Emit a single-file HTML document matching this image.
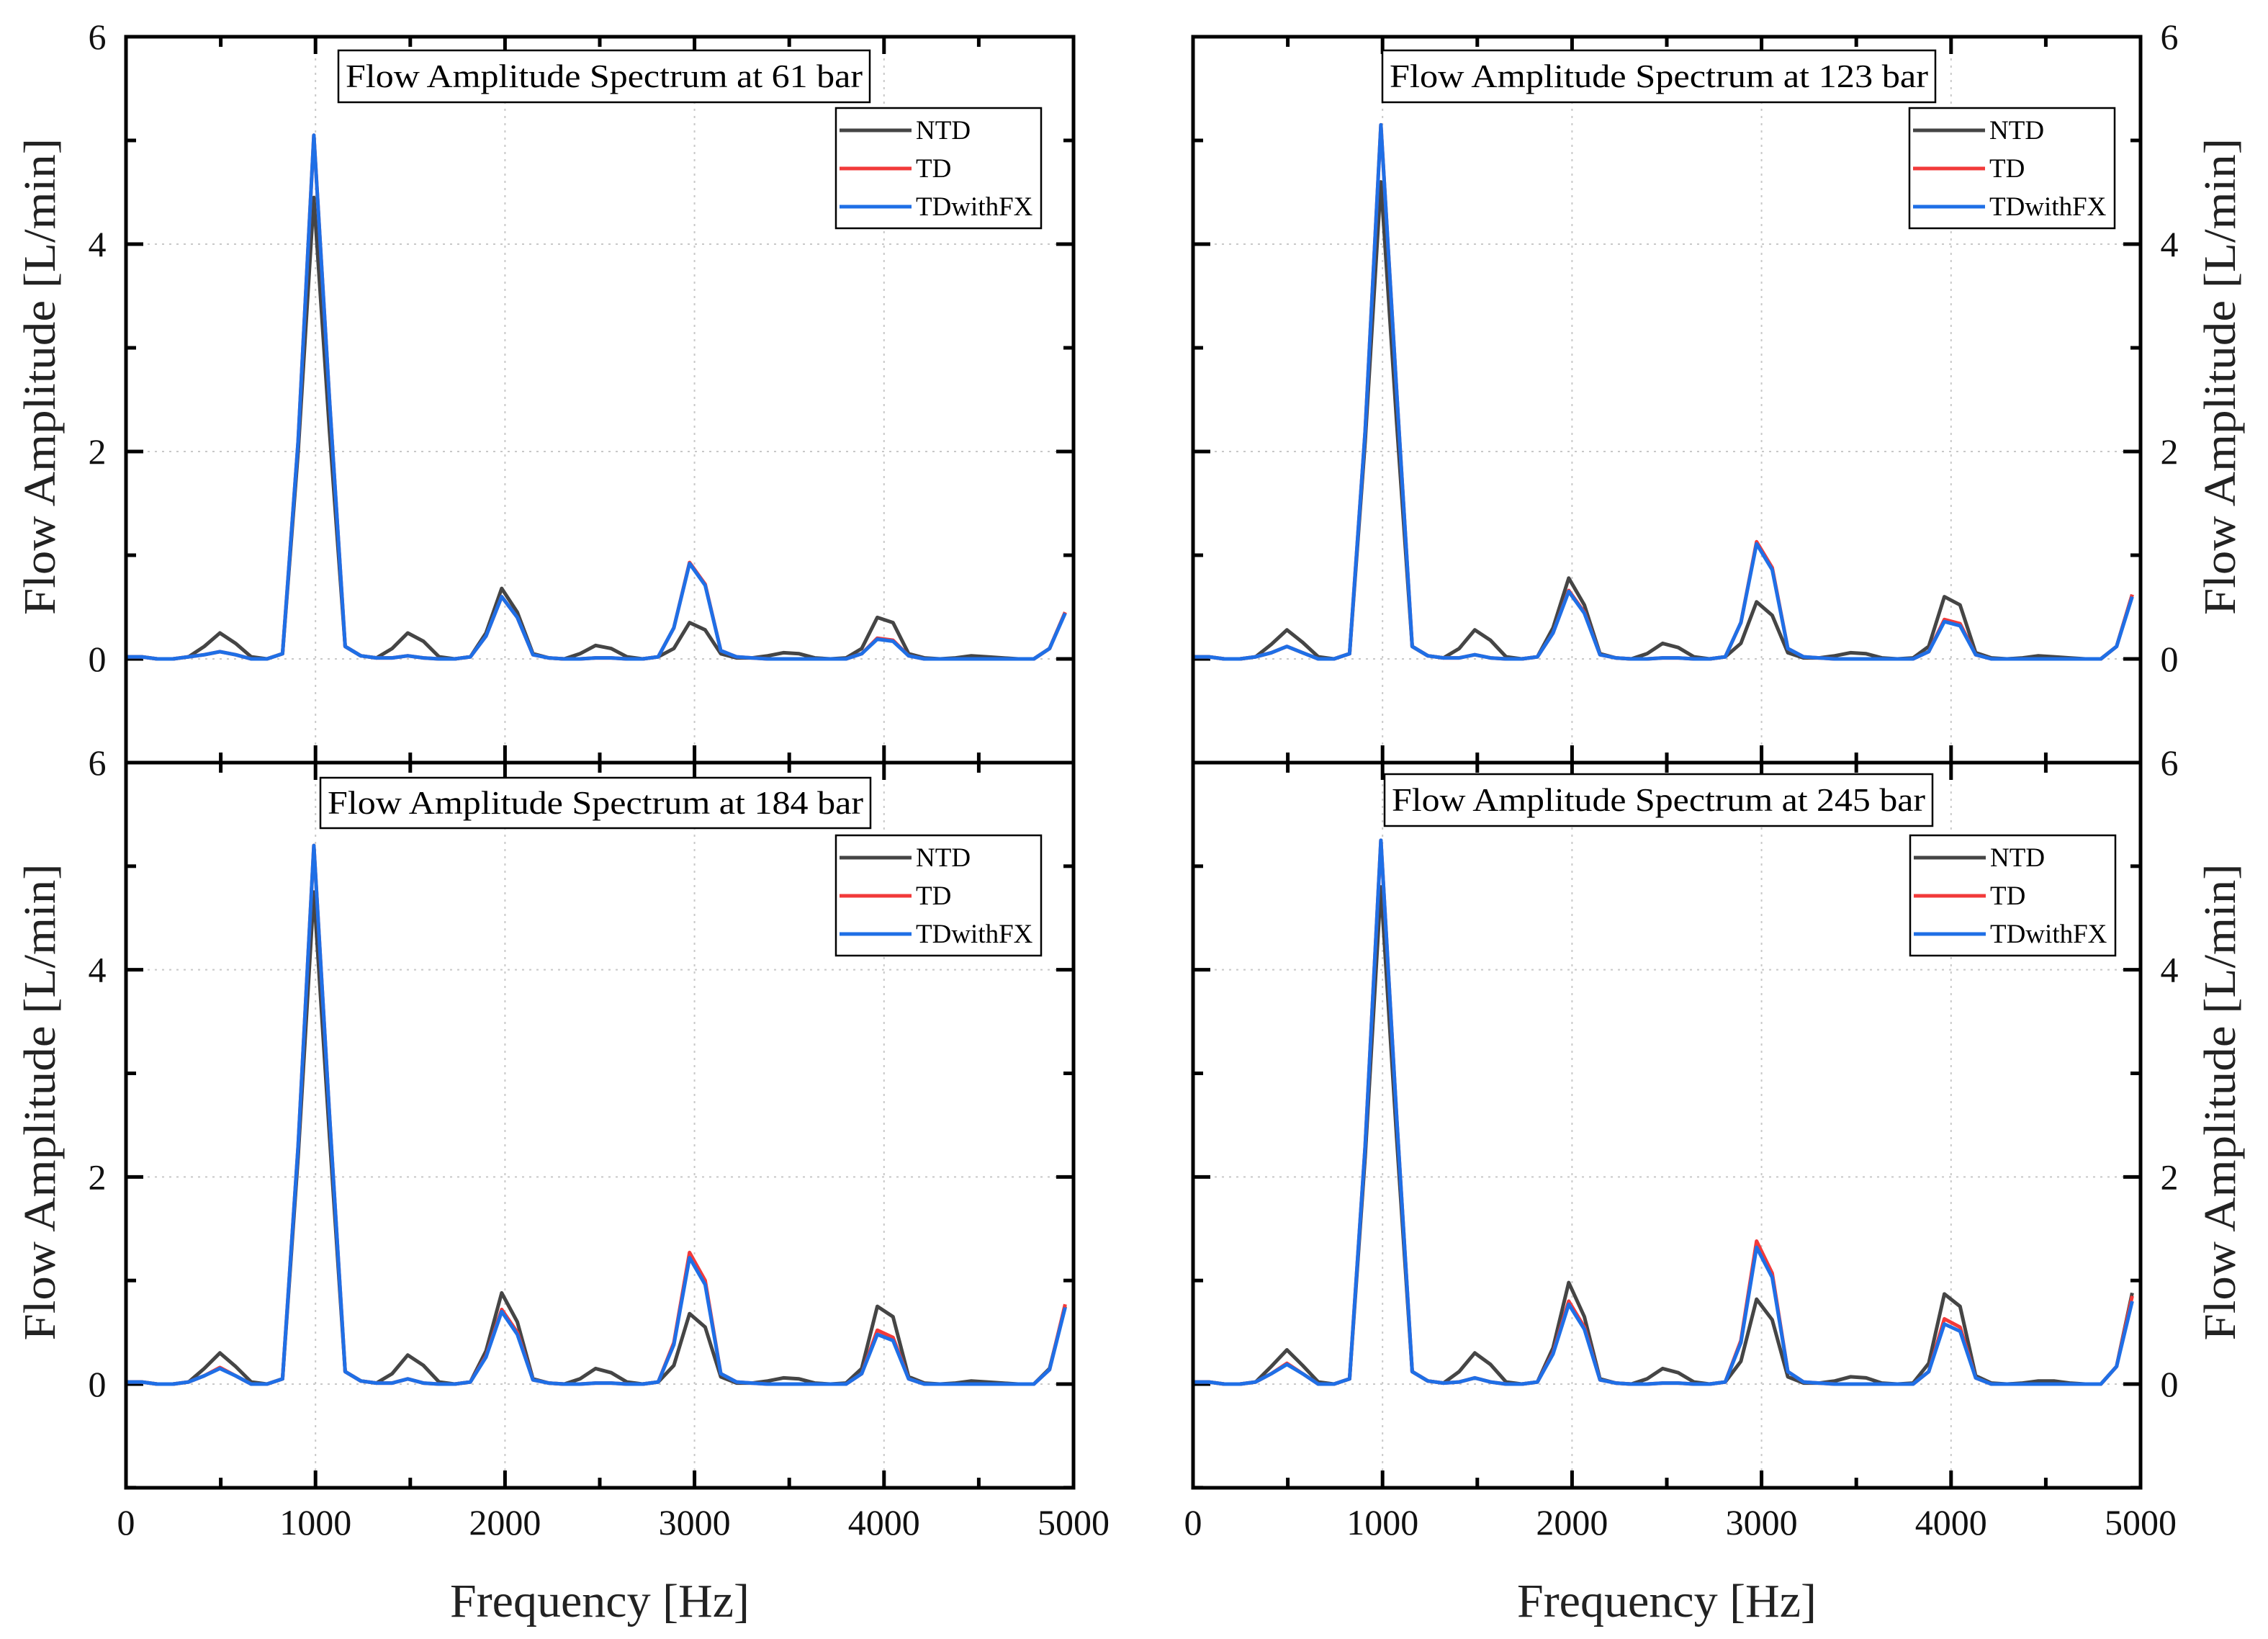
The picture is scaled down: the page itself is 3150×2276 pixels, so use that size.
<!DOCTYPE html>
<html><head><meta charset="utf-8"><style>
html,body{margin:0;padding:0;background:#fff;}
svg{display:block;font-family:"Liberation Serif",serif;}
</style></head><body>
<svg id="chart" width="3150" height="2276" viewBox="0 0 3150 2276" xmlns="http://www.w3.org/2000/svg"></svg>
<script>
const freqStep = 82.6;
const xTicks = [0,1000,2000,3000,4000,5000];
const yTicks = [0,2,4,6];
const seriesNames = ["NTD","TD","TDwithFX"];
const panelTitles = ["Flow Amplitude Spectrum at 61 bar","Flow Amplitude Spectrum at 123 bar","Flow Amplitude Spectrum at 184 bar","Flow Amplitude Spectrum at 245 bar"];

const ntd61 = [0.02,0.02,0,0,0.02,0.12,0.25,0.15,0.02,0, 0.05,2.0,4.45,2.2,0.12,0.03,0.01,0.1,0.25,0.17, 0.02,0,0.02,0.25,0.68,0.45,0.05,0.01,0,0.05, 0.13,0.1,0.02,0,0.02,0.1,0.35,0.28,0.05,0.01, 0.01,0.03,0.06,0.05,0.01,0,0.01,0.1,0.4,0.35, 0.05,0.01,0,0.01,0.03,0.02,0.01,0,0,0.1,0.45];
const td61  = [0.02,0.02,0,0,0.02,0.04,0.07,0.04,0,0, 0.05,2.1,5.05,2.5,0.12,0.03,0.01,0.01,0.03,0.01, 0,0,0.02,0.22,0.6,0.4,0.04,0.01,0,0, 0.01,0.01,0,0,0.02,0.3,0.93,0.72,0.08,0.02, 0.01,0,0,0,0,0,0,0.05,0.2,0.18, 0.03,0,0,0,0,0,0,0,0,0.1,0.45];
const fx61  = [0.02,0.02,0,0,0.02,0.04,0.07,0.04,0,0, 0.05,2.1,5.05,2.5,0.12,0.03,0.01,0.01,0.03,0.01, 0,0,0.02,0.22,0.6,0.4,0.04,0.01,0,0, 0.01,0.01,0,0,0.02,0.3,0.92,0.71,0.08,0.02, 0.01,0,0,0,0,0,0,0.05,0.19,0.17, 0.03,0,0,0,0,0,0,0,0,0.1,0.44];

const ntd123 = [0.02,0.02,0,0,0.02,0.14,0.28,0.16,0.02,0, 0.05,2.1,4.6,2.3,0.12,0.03,0.01,0.1,0.28,0.18, 0.02,0,0.02,0.3,0.78,0.52,0.05,0.01,0,0.05, 0.15,0.11,0.02,0,0.02,0.15,0.55,0.42,0.06,0.01, 0.01,0.03,0.06,0.05,0.01,0,0.01,0.12,0.6,0.52, 0.06,0.01,0,0.01,0.03,0.02,0.01,0,0,0.12,0.62];
const td123  = [0.02,0.02,0,0,0.02,0.06,0.12,0.06,0,0, 0.05,2.2,5.15,2.6,0.12,0.03,0.01,0.01,0.04,0.01, 0,0,0.02,0.25,0.66,0.45,0.04,0.01,0,0, 0.01,0.01,0,0,0.02,0.35,1.13,0.88,0.1,0.02, 0.01,0,0,0,0,0,0,0.07,0.38,0.34, 0.04,0,0,0,0,0,0,0,0,0.12,0.62];
const fx123  = [0.02,0.02,0,0,0.02,0.06,0.12,0.06,0,0, 0.05,2.2,5.15,2.6,0.12,0.03,0.01,0.01,0.04,0.01, 0,0,0.02,0.25,0.65,0.44,0.04,0.01,0,0, 0.01,0.01,0,0,0.02,0.35,1.11,0.86,0.1,0.02, 0.01,0,0,0,0,0,0,0.07,0.36,0.32, 0.04,0,0,0,0,0,0,0,0,0.12,0.6];

const ntd184 = [0.02,0.02,0,0,0.02,0.15,0.3,0.17,0.02,0, 0.05,2.2,4.75,2.4,0.12,0.03,0.01,0.1,0.28,0.18, 0.02,0,0.02,0.32,0.88,0.6,0.05,0.01,0,0.05, 0.15,0.11,0.02,0,0.02,0.18,0.68,0.55,0.07,0.01, 0.01,0.03,0.06,0.05,0.01,0,0.01,0.15,0.75,0.65, 0.07,0.01,0,0.01,0.03,0.02,0.01,0,0,0.15,0.75];
const td184  = [0.02,0.02,0,0,0.02,0.08,0.16,0.08,0,0, 0.05,2.3,5.2,2.6,0.12,0.03,0.01,0.01,0.05,0.01, 0,0,0.02,0.27,0.72,0.5,0.04,0.01,0,0, 0.01,0.01,0,0,0.02,0.4,1.27,1.0,0.1,0.02, 0.01,0,0,0,0,0,0,0.1,0.52,0.45, 0.05,0,0,0,0,0,0,0,0,0.14,0.77];
const fx184  = [0.02,0.02,0,0,0.02,0.08,0.15,0.08,0,0, 0.05,2.3,5.2,2.6,0.12,0.03,0.01,0.01,0.05,0.01, 0,0,0.02,0.26,0.7,0.48,0.04,0.01,0,0, 0.01,0.01,0,0,0.02,0.38,1.22,0.96,0.1,0.02, 0.01,0,0,0,0,0,0,0.1,0.48,0.42, 0.05,0,0,0,0,0,0,0,0,0.14,0.74];

const ntd245 = [0.02,0.02,0,0,0.02,0.17,0.33,0.18,0.02,0, 0.05,2.2,4.8,2.4,0.12,0.03,0.01,0.12,0.3,0.19, 0.02,0,0.02,0.35,0.98,0.65,0.05,0.01,0,0.05, 0.15,0.11,0.02,0,0.02,0.22,0.82,0.62,0.07,0.01, 0.01,0.03,0.07,0.06,0.01,0,0.01,0.2,0.87,0.75, 0.08,0.01,0,0.01,0.03,0.03,0.01,0,0,0.17,0.88];
const td245  = [0.02,0.02,0,0,0.02,0.1,0.2,0.1,0,0, 0.05,2.3,5.25,2.6,0.12,0.03,0.01,0.02,0.06,0.02, 0,0,0.02,0.3,0.8,0.55,0.04,0.01,0,0, 0.01,0.01,0,0,0.02,0.42,1.38,1.07,0.12,0.02, 0.01,0,0,0,0,0,0,0.12,0.63,0.55, 0.06,0,0,0,0,0,0,0,0,0.17,0.85];
const fx245  = [0.02,0.02,0,0,0.02,0.1,0.19,0.1,0,0, 0.05,2.3,5.25,2.6,0.12,0.03,0.01,0.02,0.06,0.02, 0,0,0.02,0.29,0.77,0.53,0.04,0.01,0,0, 0.01,0.01,0,0,0.02,0.4,1.32,1.03,0.12,0.02, 0.01,0,0,0,0,0,0,0.12,0.58,0.51, 0.06,0,0,0,0,0,0,0,0,0.17,0.8];

const panelData = [[ntd61,td61,fx61],[ntd123,td123,fx123],[ntd184,td184,fx184],[ntd245,td245,fx245]];
const colors = ["#454545","#f23a3a","#1f6fe6"];

const svg = document.getElementById('chart');
const NS = "http://www.w3.org/2000/svg";
function mk(tag, attrs, parent){const e=document.createElementNS(NS,tag);for(const k in attrs)e.setAttribute(k,attrs[k]);(parent||svg).appendChild(e);return e;}

const panels = [
 {x0:175,x1:1491,yTop:51,yZero:915,yBot:1059,side:'left',bottom:false,title:[470,70,738,72],legend:[1161,150,285,167]},
 {x0:1657,x1:2973,yTop:51,yZero:915,yBot:1059,side:'right',bottom:false,title:[1920,70,768,72],legend:[2652,150,285,167]},
 {x0:175,x1:1491,yTop:1059,yZero:1922,yBot:2066,side:'left',bottom:true,title:[445,1080,764,70],legend:[1161,1160,285,167]},
 {x0:1657,x1:2973,yTop:1059,yZero:1922,yBot:2066,side:'right',bottom:true,title:[1923,1075,761,72],legend:[2653,1160,285,167]}
];

panels.forEach((p,pi)=>{
  const g = mk('g',{});
  
  
  const sx = f => p.x0 + (f/5000)*(p.x1-p.x0);
  const unit = (p.yZero-p.yTop)/6;
  const sy = v => p.yZero - v*unit;
  [1000,2000,3000,4000].forEach(f=>{
    const l=mk('line',{x1:sx(f),x2:sx(f),y1:p.yTop,y2:p.yBot,stroke:'#c8c8c8','stroke-width':2,'stroke-dasharray':'3,7'},g);
    
    
  });
  [0,2,4].forEach(v=>{
    const l=mk('line',{x1:p.x0,x2:p.x1,y1:sy(v),y2:sy(v),stroke:'#c8c8c8','stroke-width':2,'stroke-dasharray':'3,7'},g);
    
    
  });
  for(let f=500; f<5000; f+=500){
    const len = f%1000===0?24:14;
    mk('line',{x1:sx(f),x2:sx(f),y1:p.yTop,y2:p.yTop+len,stroke:'#000','stroke-width':5},g);
    mk('line',{x1:sx(f),x2:sx(f),y1:p.yBot,y2:p.yBot-len,stroke:'#000','stroke-width':5},g);
  }
  for(let v=-1; v<=6; v++){
    const len = v%2===0?24:14;
    mk('line',{x1:p.x0,x2:p.x0+len,y1:sy(v),y2:sy(v),stroke:'#000','stroke-width':5},g);
    mk('line',{x1:p.x1,x2:p.x1-len,y1:sy(v),y2:sy(v),stroke:'#000','stroke-width':5},g);
  }
  panelData[pi].forEach((arr,si)=>{
    const pts = arr.map((v,i)=>sx(i*freqStep).toFixed(1)+','+sy(v).toFixed(1)).join(' ');
    const pl = mk('polyline',{points:pts,fill:'none',stroke:colors[si],'stroke-width':5,'stroke-linejoin':'round'},g);
    
    
  });
  const fr = mk('rect',{x:p.x0,y:p.yTop,width:p.x1-p.x0,height:p.yBot-p.yTop,fill:'none',stroke:'#000','stroke-width':5},g);
  
  
  yTicks.forEach(v=>{
    const tx = p.side==='left' ? 135 : 3013;
    const t = mk('text',{x:tx,y:sy(v)+17,'font-size':50,'text-anchor':'middle',fill:'#111'},g);
    t.textContent = v;
    
    
  });
  const yx = p.side==='left'? 62 : 3090;
  const ycy = (p.yTop+p.yZero)/2+40;
  const yt = mk('text',{x:yx,y:ycy,'font-size':62,'text-anchor':'middle',textLength:662,lengthAdjust:'spacingAndGlyphs',fill:'#222',transform:'rotate(-90 '+yx+' '+ycy+')','dominant-baseline':'middle'},g);
  yt.textContent = 'Flow Amplitude [L/min]';
  
  
  if(p.bottom){
    xTicks.forEach(f=>{
      const t = mk('text',{x:sx(f),y:2131,'font-size':50,'text-anchor':'middle',fill:'#111'},g);
      t.textContent = f;
      
      
    });
    const xt = mk('text',{x:(p.x0+p.x1)/2,y:2245,'font-size':66,'text-anchor':'middle',textLength:416,lengthAdjust:'spacingAndGlyphs',fill:'#222'},g);
    xt.textContent = 'Frequency [Hz]';
    
    
  }
  const [tx,ty,tw,th] = p.title;
  const tb = mk('rect',{x:tx,y:ty,width:tw,height:th,fill:'#fff',stroke:'#000','stroke-width':2.5},g);
  
  
  const tt = mk('text',{x:tx+tw/2,y:ty+th/2+15,'font-size':46,'text-anchor':'middle',textLength:tw-20,lengthAdjust:'spacingAndGlyphs',fill:'#000'},g);
  tt.textContent = panelTitles[pi];
  
  
  const [lx,ly,lw,lh] = p.legend;
  const lg = mk('g',{},g);
  
  
  mk('rect',{x:lx,y:ly,width:lw,height:lh,fill:'#fff',stroke:'#000','stroke-width':2.5},lg);
  seriesNames.forEach((nm,si)=>{
    const yy = ly+31+si*53;
    const ln = mk('line',{x1:lx+5,x2:lx+105,y1:yy,y2:yy,stroke:colors[si],'stroke-width':5},lg);
    
    
    const lt = mk('text',{x:lx+111,y:yy+12,'font-size':37,fill:'#000'},lg);
    lt.textContent = nm;
    
    
  });
});
</script>
</body></html>
